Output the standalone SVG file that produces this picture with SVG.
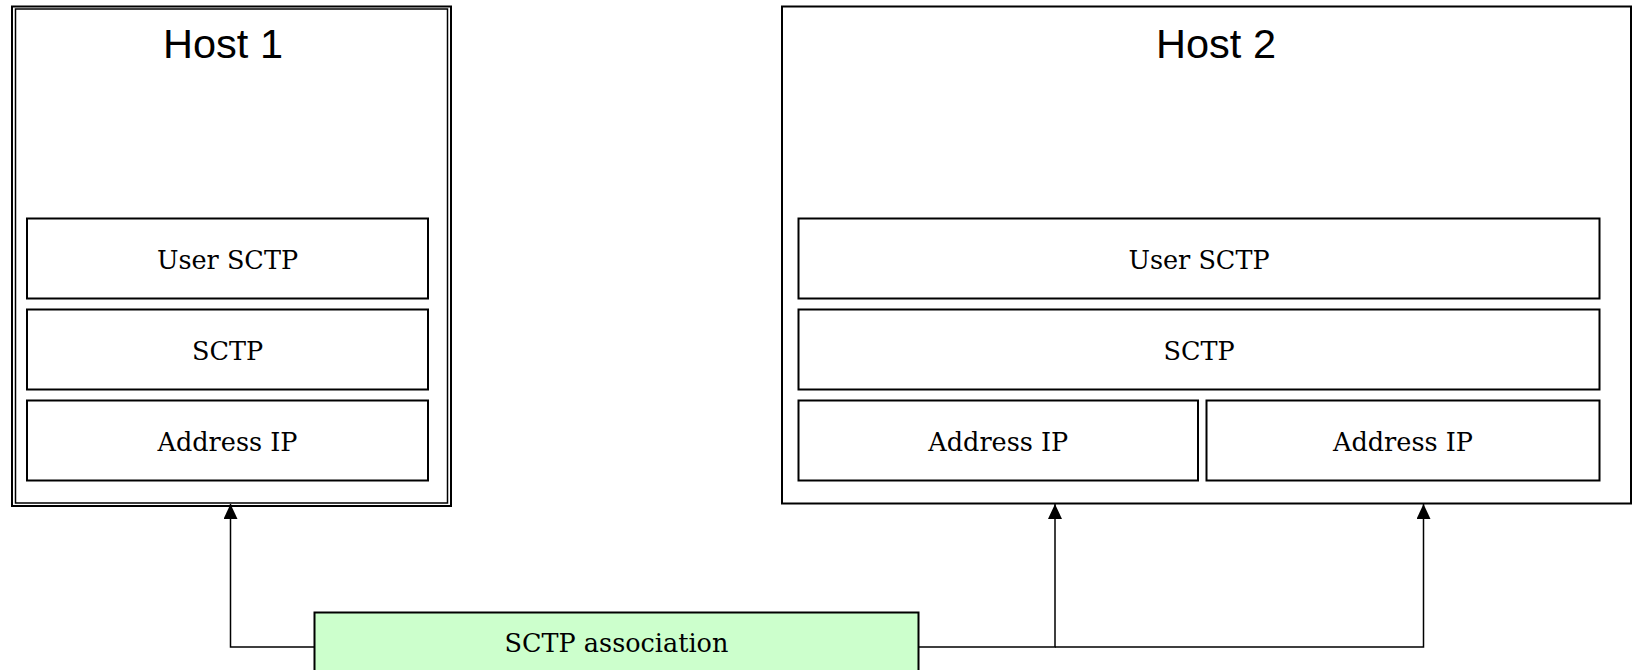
<svg xmlns="http://www.w3.org/2000/svg" width="1634" height="670" viewBox="0 0 1634 670">
  <style>
    .frame { fill: #ffffff; stroke: #000000; stroke-width: 2; }
    .frame-inner { fill: none; stroke: #000000; stroke-width: 1.5; }
    .layer { fill: #ffffff; stroke: #000000; stroke-width: 2; }
    .assoc { fill: #ccffcc; stroke: #000000; stroke-width: 2; }
    .title { font-family: "Liberation Sans", Arial, sans-serif; font-size: 41.5px; fill: #000000; text-anchor: middle; }
    .label { font-family: "DejaVu Serif", "Liberation Serif", serif; font-size: 25.5px; fill: #000000; text-anchor: middle; }
    .link { fill: none; stroke: #000000; stroke-width: 1.5; }
  </style>
  <defs>
    <marker id="arrow" markerUnits="userSpaceOnUse" markerWidth="15" markerHeight="14" refX="15" refY="7" orient="auto">
      <path d="M0,0 L15,7 L0,14 Z" fill="#000000"/>
    </marker>
  </defs>

  <rect width="1634" height="670" fill="#ffffff"/>

  <!-- Host 1: double-bordered frame with its protocol stack -->
  <g id="host1">
    <rect class="frame" x="12" y="6.5" width="439" height="499.5"/>
    <rect class="frame-inner" x="15.5" y="9" width="432" height="494"/>
    <text class="title" x="223" y="57.8">Host 1</text>
  </g>
  <g id="host1-user">
    <rect class="layer" x="27" y="218.5" width="401" height="80"/>
    <text class="label" x="227.5" y="269">User SCTP</text>
  </g>
  <g id="host1-sctp">
    <rect class="layer" x="27" y="309.5" width="401" height="80"/>
    <text class="label" x="227.5" y="360">SCTP</text>
  </g>
  <g id="host1-ip">
    <rect class="layer" x="27" y="400.5" width="401" height="80"/>
    <text class="label" x="227.5" y="450.5">Address IP</text>
  </g>

  <!-- Host 2: single frame, shared upper layers, two addresses -->
  <g id="host2">
    <rect class="frame" x="782" y="6.5" width="849" height="497"/>
    <text class="title" x="1216" y="57.8">Host 2</text>
  </g>
  <g id="host2-user">
    <rect class="layer" x="798.5" y="218.5" width="801" height="80"/>
    <text class="label" x="1199" y="269">User SCTP</text>
  </g>
  <g id="host2-sctp">
    <rect class="layer" x="798.5" y="309.5" width="801" height="80"/>
    <text class="label" x="1199" y="360">SCTP</text>
  </g>
  <g id="host2-ip1">
    <rect class="layer" x="798.5" y="400.5" width="399.5" height="80"/>
    <text class="label" x="998.3" y="450.5">Address IP</text>
  </g>
  <g id="host2-ip2">
    <rect class="layer" x="1206.5" y="400.5" width="393" height="80"/>
    <text class="label" x="1403" y="450.5">Address IP</text>
  </g>

  <!-- Association box at the bottom -->
  <g id="association">
    <rect class="assoc" x="314.5" y="612.5" width="604" height="80"/>
    <text class="label" x="616.5" y="652.3">SCTP association</text>
  </g>

  <!-- Connectors from the association to each host -->
  <g id="connectors">
    <path class="link" d="M314.5,647 H230.5 V504" marker-end="url(#arrow)"/>
    <path class="link" d="M918.5,647 H1055 V504" marker-end="url(#arrow)"/>
    <path class="link" d="M1055,647 H1423.5 V504" marker-end="url(#arrow)"/>
  </g>
</svg>
